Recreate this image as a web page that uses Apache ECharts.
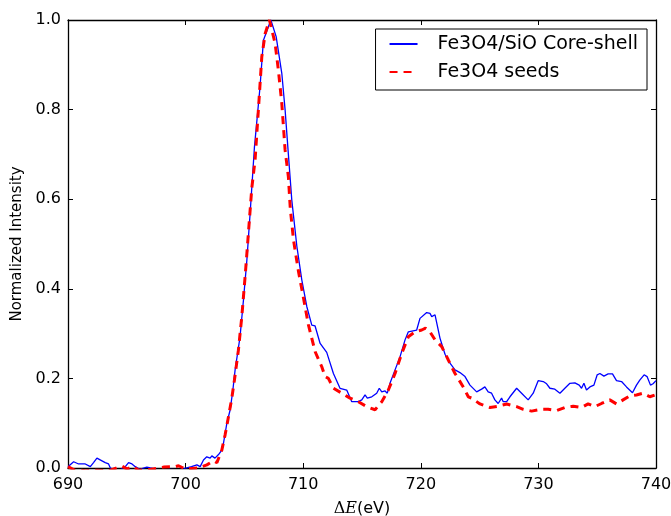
<!DOCTYPE html>
<html>
<head>
<meta charset="utf-8">
<script src="https://cdn.jsdelivr.net/npm/echarts@6/dist/echarts.min.js"></script>
<style>
  html, body { margin: 0; padding: 0; background: #fff; }
  #chart { width: 671px; height: 516px; }
</style>
</head>
<body>
<div id="chart"></div>
<script>
// EELS Fe L-edge spectra, normalized intensity vs energy loss (eV)
const coreShellName = 'Fe3O4/SiO Core-shell';
const coreShellEnergy = [690.0, 690.48, 690.9, 691.47, 691.9, 692.17, 692.46, 692.89, 693.17, 693.45,
  693.6, 694.0, 694.5, 694.87, 695.15, 695.44, 695.72, 696.1, 696.7, 697.0,
  697.8, 698.7, 699.5, 700.5, 700.96, 701.24, 701.52, 701.8, 702.09, 702.23,
  702.5, 702.8, 703.08, 703.22, 703.36, 703.51, 703.79, 704.02, 704.21, 704.63,
  704.92, 705.21, 705.49, 705.85, 706.33, 706.62, 707.04, 707.25, 707.42, 707.7,
  708.18, 708.46, 708.74, 709.03, 709.46, 709.88, 710.31, 710.73, 711.01, 711.44,
  712.0, 712.57, 713.13, 713.7, 714.13, 714.69, 714.98, 715.26, 715.45, 715.83,
  716.25, 716.47, 716.68, 716.96, 717.15, 717.38, 717.81, 718.23, 718.66, 718.94,
  719.65, 719.93, 720.5, 720.78, 720.93, 721.21, 721.63, 722.06, 722.48, 722.91,
  723.33, 723.76, 724.18, 724.75, 725.17, 725.45, 725.73, 726.02, 726.3, 726.58,
  726.87, 727.01, 727.3, 727.58, 728.15, 728.57, 729.13, 729.56, 729.98, 730.41,
  730.7, 730.98, 731.4, 731.83, 732.25, 732.68, 733.1, 733.47, 733.67, 733.87,
  734.09, 734.38, 734.72, 735.0, 735.23, 735.57, 735.93, 736.3, 736.64, 737.07,
  737.49, 738.0, 738.34, 738.62, 738.99, 739.24, 739.53, 739.75, 740.0];
const coreShellIntensity = [0.003, 0.014, 0.009, 0.009, 0.003, 0.012, 0.022, 0.016, 0.012, 0.009,
  0.0, -0.004, -0.003, 0.003, 0.012, 0.009, 0.003, -0.003, 0.002, 0.0,
  -0.005, -0.003, -0.004, 0.003, 0.007, 0.003, 0.018, 0.025, 0.022, 0.027,
  0.022, 0.03, 0.04, 0.055, 0.077, 0.1, 0.13, 0.174, 0.219, 0.293,
  0.375, 0.464, 0.57, 0.715, 0.851, 0.955, 0.985, 1.0, 0.996, 0.963,
  0.881, 0.8, 0.7, 0.598, 0.495, 0.42, 0.36, 0.319, 0.317, 0.278,
  0.258, 0.211, 0.178, 0.174, 0.148, 0.148, 0.152, 0.163, 0.156, 0.159,
  0.167, 0.178, 0.17, 0.172, 0.167, 0.189, 0.219, 0.248, 0.286, 0.304,
  0.308, 0.334, 0.347, 0.345, 0.338, 0.342, 0.29, 0.254, 0.234, 0.219,
  0.213, 0.204, 0.185, 0.17, 0.176, 0.181, 0.17, 0.167, 0.152, 0.144,
  0.156, 0.148, 0.148, 0.159, 0.178, 0.167, 0.152, 0.167, 0.195, 0.193,
  0.188, 0.178, 0.176, 0.167, 0.178, 0.189, 0.19, 0.185, 0.178, 0.189,
  0.174, 0.181, 0.185, 0.208, 0.211, 0.205, 0.21, 0.21, 0.195, 0.193,
  0.181, 0.168, 0.185, 0.196, 0.208, 0.204, 0.185, 0.188, 0.195];

const seedsName = 'Fe3O4 seeds';
const seedsEnergy = [690.0, 690.5, 691.5, 692.5, 693.5, 694.3, 694.6, 695.0, 695.57, 696.0,
  696.8, 698.12, 699.12, 699.4, 699.97, 701.1, 701.81, 702.37, 702.66, 703.08,
  703.36, 703.65, 703.93, 704.15, 704.49, 704.78, 705.06, 705.34, 705.63, 705.91,
  706.19, 706.48, 706.77, 707.13, 707.61, 707.89, 708.18, 708.46, 708.74, 708.9,
  709.17, 709.59, 710.02, 710.44, 711.01, 711.58, 711.86, 712.14, 712.57, 713.28,
  713.98, 714.69, 715.4, 716.11, 716.68, 717.24, 717.81, 718.38, 718.94, 719.51,
  720.08, 720.4, 720.75, 721.21, 721.78, 722.34, 722.91, 723.61, 724.04, 724.32,
  725.03, 725.88, 726.58, 727.3, 728.15, 728.71, 729.42, 730.27, 730.83, 731.55,
  732.25, 732.96, 733.67, 734.23, 734.8, 735.37, 736.07, 736.64, 737.2, 737.77,
  738.34, 738.9, 739.47, 739.9];
const seedsIntensity = [0.003, -0.004, -0.006, -0.005, -0.006, 0.002, 0.004, -0.002, 0.003, -0.005,
  -0.004, 0.002, 0.003, 0.005, -0.002, 0.0, 0.007, 0.016, 0.012, 0.04,
  0.074, 0.115, 0.156, 0.196, 0.263, 0.338, 0.427, 0.524, 0.625, 0.688,
  0.8, 0.918, 0.97, 1.0, 0.948, 0.888, 0.814, 0.71, 0.65, 0.58,
  0.51, 0.44, 0.38, 0.32, 0.26, 0.226, 0.204, 0.2, 0.178, 0.167,
  0.156, 0.148, 0.137, 0.13, 0.148, 0.174, 0.211, 0.256, 0.293, 0.304,
  0.308, 0.312, 0.305, 0.286, 0.271, 0.241, 0.211, 0.181, 0.159, 0.156,
  0.143, 0.135, 0.138, 0.143, 0.137, 0.131, 0.127, 0.131, 0.131, 0.128,
  0.135, 0.138, 0.135, 0.143, 0.137, 0.144, 0.152, 0.143, 0.152, 0.161,
  0.163, 0.167, 0.159, 0.163];

const xRange = { min: 690, max: 740, interval: 10 };
const yRange = { min: 0, max: 1, interval: 0.2 };

const FONT = 'DejaVu Sans';
const zip = (xs, ys) => xs.map((x, i) => [x, ys[i]]);

const frameLine = { show: true, onZero: false, lineStyle: { color: '#000', width: 1.3 } };
const innerTick = { show: true, inside: true, length: 5, lineStyle: { color: '#000', width: 1 } };

const chart = echarts.init(document.getElementById('chart'), null, { renderer: 'canvas' });
chart.setOption({
  animation: false,
  backgroundColor: '#fff',
  grid: { left: 68, right: 15, top: 20, bottom: 48, containLabel: false, outerBoundsMode: 'none' },
  legend: {
    data: [coreShellName, seedsName],
    orient: 'vertical',
    right: 24,
    top: 29,
    backgroundColor: '#fff',
    borderColor: '#000',
    borderWidth: 1,
    borderRadius: 0,
    padding: [4, 9, 7, 13],
    itemWidth: 28,
    itemHeight: 14,
    itemGap: 6,
    // line-only keys, no marker dot
    itemStyle: { color: 'rgba(0,0,0,0)', borderWidth: 0, opacity: 0 },
    textStyle: { fontFamily: FONT, fontSize: 19, lineHeight: 22, color: '#000', padding: [0, 0, 0, 15] }
  },
  xAxis: [
    {
      type: 'value', position: 'bottom', ...xRange,
      name: '{m|Δ}{i|E}(eV)', nameLocation: 'middle', nameGap: 33,
      nameTextStyle: {
        fontFamily: FONT, fontSize: 16, color: '#000',
        rich: {
          m: { fontFamily: 'DejaVu Serif', fontSize: 16, color: '#000' },
          i: { fontFamily: 'DejaVu Serif', fontStyle: 'italic', fontSize: 16, color: '#000' }
        }
      },
      axisLine: frameLine, axisTick: innerTick,
      axisLabel: { fontFamily: FONT, fontSize: 16, color: '#000', margin: 9 },
      splitLine: { show: false }
    },
    {
      type: 'value', position: 'top', ...xRange,
      axisLine: frameLine, axisTick: innerTick,
      axisLabel: { show: false }, splitLine: { show: false }
    }
  ],
  yAxis: [
    {
      type: 'value', position: 'left', ...yRange,
      name: 'Normalized Intensity', nameLocation: 'middle', nameGap: 36, nameRotate: 90,
      nameTextStyle: { fontFamily: FONT, fontSize: 15, color: '#000' },
      axisLine: frameLine, axisTick: innerTick,
      axisLabel: { fontFamily: FONT, fontSize: 16, color: '#000', margin: 7,
        formatter: v => v.toFixed(1) },
      splitLine: { show: false }
    },
    {
      type: 'value', position: 'right', ...yRange,
      axisLine: frameLine, axisTick: innerTick,
      axisLabel: { show: false }, splitLine: { show: false }
    }
  ],
  series: [
    {
      name: coreShellName, type: 'line', xAxisIndex: 0, yAxisIndex: 0,
      data: zip(coreShellEnergy, coreShellIntensity),
      symbol: 'none', clip: true, z: 2,
      lineStyle: { color: '#0000ff', width: 1.3 },
      itemStyle: { color: '#0000ff' }
    },
    {
      name: seedsName, type: 'line', xAxisIndex: 0, yAxisIndex: 0,
      data: zip(seedsEnergy, seedsIntensity),
      symbol: 'none', clip: true, z: 3,
      lineStyle: { color: '#ff0000', width: 3, type: [8, 6] },
      itemStyle: { color: '#ff0000' }
    }
  ]
});
</script>
</body>
</html>
